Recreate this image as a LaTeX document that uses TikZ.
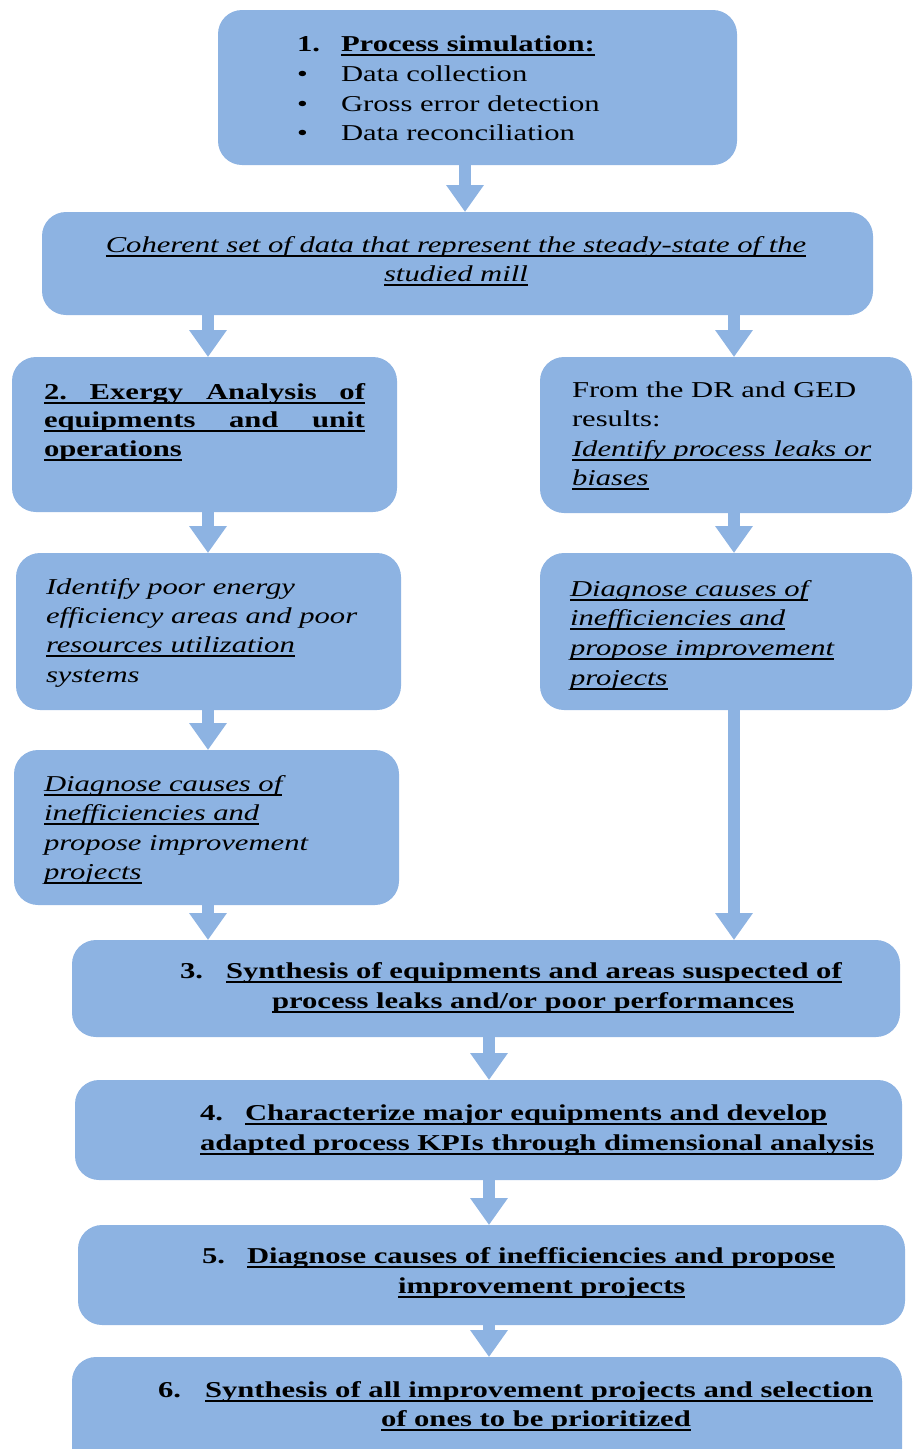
\documentclass[tikz,border=0pt]{standalone}
\usepackage{fontspec}
\setmainfont[FakeStretch=1.35]{Liberation Serif}
\usetikzlibrary{arrows.meta}
\definecolor{boxblue}{HTML}{8DB3E2}
\newsavebox\ulbox
\newcommand\ulx[1]{\sbox\ulbox{#1}\rlap{\rule[-4.5pt]{\wd\ulbox}{1.7pt}}\usebox\ulbox}
\frenchspacing
\begin{document}
\begin{tikzpicture}[x=1pt,y=-1pt,
  box/.style={fill=boxblue,rounded corners=24pt,inner sep=0pt,outer sep=0pt,anchor=north west},
  arr/.style={draw=boxblue,line width=12pt,-{Triangle[width=36pt,length=27pt]}},
  txt/.style={inner sep=0pt,outer sep=0pt,anchor=base west,font=\fontsize{22.7}{30}\selectfont},
  ctxt/.style={txt,anchor=base}]
\clip (0,0) rectangle (913,1449);
% boxes
\node[box,minimum width=519pt,minimum height=155pt] (b1) at (218,10) {};
\node[box,minimum width=831pt,minimum height=103pt] (coh) at (42,212) {};
\node[box,minimum width=385pt,minimum height=155pt] (b2) at (12,357) {};
\node[box,minimum width=372pt,minimum height=156pt] (dr) at (540,357) {};
\node[box,minimum width=385pt,minimum height=157pt] (idl) at (16,553) {};
\node[box,minimum width=372pt,minimum height=157pt] (dgr) at (540,553) {};
\node[box,minimum width=385pt,minimum height=155pt] (dgl) at (14,750) {};
\node[box,minimum width=828pt,minimum height=97pt] (b3) at (72,940) {};
\node[box,minimum width=827pt,minimum height=100pt] (b4) at (75,1080) {};
\node[box,minimum width=827pt,minimum height=100pt] (b5) at (78,1225) {};
\node[box,minimum width=830pt,minimum height=120pt] (b6) at (72,1357) {};
% arrow columns
\coordinate (cx) at (465,0);
\coordinate (lx) at (208,0);
\coordinate (rx) at (734,0);
\coordinate (mx) at (489,0);
\draw[arr] (b1.south -| cx) -- (coh.north -| cx);
\draw[arr] (coh.south -| lx) -- (b2.north -| lx);
\draw[arr] (coh.south -| rx) -- (dr.north -| rx);
\draw[arr] (b2.south -| lx) -- (idl.north -| lx);
\draw[arr] (dr.south -| rx) -- (dgr.north -| rx);
\draw[arr] (idl.south -| lx) -- (dgl.north -| lx);
\draw[arr] (dgl.south -| lx) -- (b3.north -| lx);
\draw[arr] (dgr.south -| rx) -- (b3.north -| rx);
\draw[arr] (b3.south -| mx) -- (b4.north -| mx);
\draw[arr] (b4.south -| mx) -- (b5.north -| mx);
\draw[arr] (b5.south -| mx) -- (b6.north -| mx);
% box 1
\node[txt] (n1) at (297,51) {\bfseries 1.};
\node[txt] (t1a) at (341,51) {\bfseries\ulx{Process simulation:}};
\node[txt] (u1) at (297,81) {•};
\node[txt] (t1b) at (341,81) {Data collection};
\node[txt] (u2) at (297,111) {•};
\node[txt] (t1c) at (341,111) {Gross error detection};
\node[txt] (u3) at (297,140) {•};
\node[txt] (t1d) at (341,140) {Data reconciliation};
% coherent
\node[ctxt] (tc1) at (456,252) {\itshape\ulx{Coherent set of data that represent the steady-state of the}};
\node[ctxt] (tc2) at (456,281) {\itshape\ulx{studied mill}};
% box 2
\node[txt] (t2a) at (44,399) {\bfseries\ulx{\makebox[321pt][s]{2. Exergy Analysis of}}};
\node[txt] (t2b) at (44,427) {\bfseries\ulx{\makebox[321pt][s]{equipments and unit}}};
\node[txt] (t2c) at (44,456) {\bfseries\ulx{operations}};
% DR box
\node[txt] (tda) at (572,397) {From the DR and GED};
\node[txt] (tdb) at (572,426) {results:};
\node[txt] (tdc) at (572,456) {\itshape\ulx{Identify process leaks or}};
\node[txt] (tdd) at (572,485) {\itshape\ulx{biases}};
% identify poor
\node[txt] (tia) at (46,594) {\itshape Identify poor energy};
\node[txt] (tib) at (46,623) {\itshape efficiency areas and poor};
\node[txt] (tic) at (46,652) {\itshape\ulx{resources utilization}};
\node[txt] (tid) at (46,682) {\itshape systems};
% diagnose right
\node[txt] (tra) at (570,596) {\itshape\ulx{Diagnose causes of}};
\node[txt] (trb) at (570,625) {\itshape\ulx{inefficiencies and}};
\node[txt] (trc) at (570,655) {\itshape\ulx{propose improvement}};
\node[txt] (trd) at (570,685) {\itshape\ulx{projects}};
% diagnose left
\node[txt] (tla) at (44,791) {\itshape\ulx{Diagnose causes of}};
\node[txt] (tlb) at (44,820) {\itshape\ulx{inefficiencies and}};
\node[txt] (tlc) at (44,850) {\itshape propose improvement};
\node[txt] (tld) at (44,879) {\itshape\ulx{projects}};
% box 3
\node[txt] (n3) at (180,978) {\bfseries 3.};
\node[txt] (t3a) at (226,978) {\bfseries\ulx{Synthesis of equipments and areas suspected of}};
\node[txt] (t3b) at (272,1008) {\bfseries\ulx{process leaks and/or poor performances}};
% box 4
\node[txt] (n4) at (200,1120) {\bfseries 4.};
\node[txt] (t4a) at (245,1120) {\bfseries\ulx{Characterize major equipments and develop}};
\node[txt] (t4b) at (200,1150) {\bfseries\ulx{adapted process KPIs through dimensional analysis}};
% box 5
\node[txt] (n5) at (202,1263) {\bfseries 5.};
\node[txt] (t5a) at (247,1263) {\bfseries\ulx{Diagnose causes of inefficiencies and propose}};
\node[txt] (t5b) at (398,1293) {\bfseries\ulx{improvement projects}};
% box 6
\node[txt] (n6) at (158,1397) {\bfseries 6.};
\node[txt] (t6a) at (205,1397) {\bfseries\ulx{Synthesis of all improvement projects and selection}};
\node[txt] (t6b) at (381,1426) {\bfseries\ulx{of ones to be prioritized}};
\end{tikzpicture}
\end{document}
